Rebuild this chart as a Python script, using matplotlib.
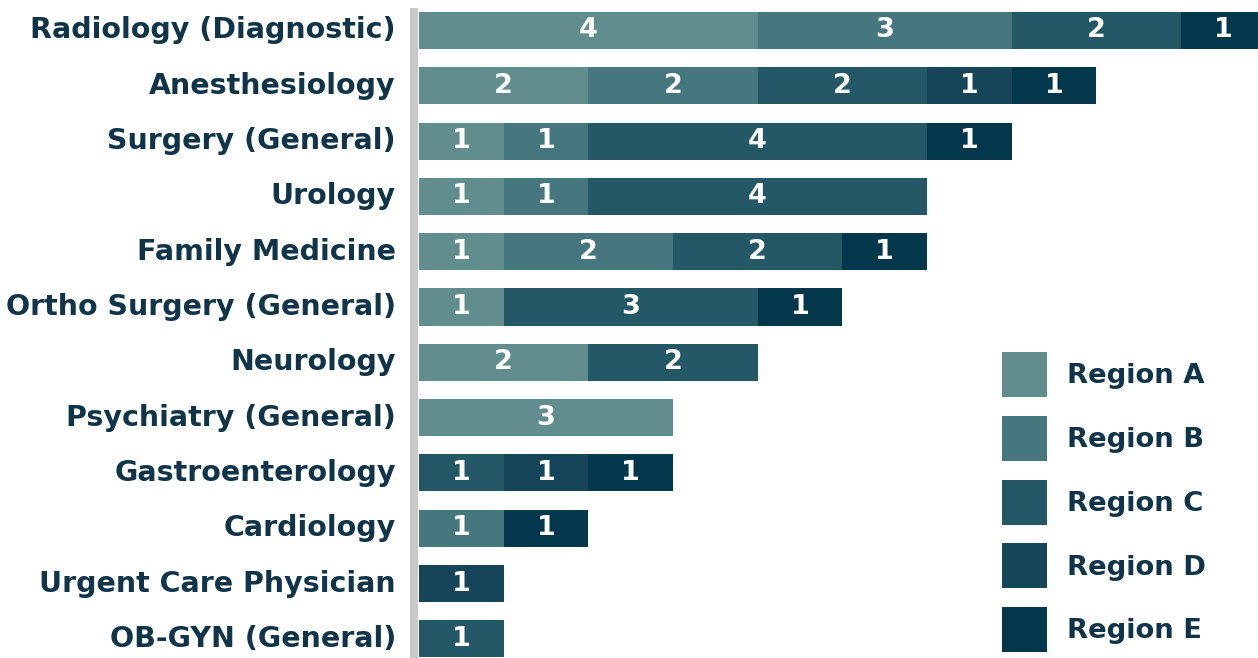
import matplotlib
matplotlib.use("Agg")
import matplotlib.pyplot as plt
import numpy as np

# ---- data ----
specialties = [
    "Radiology (Diagnostic)", "Anesthesiology", "Surgery (General)", "Urology",
    "Family Medicine", "Ortho Surgery (General)", "Neurology",
    "Psychiatry (General)", "Gastroenterology", "Cardiology",
    "Urgent Care Physician", "OB-GYN (General)",
]
regions = ["Region A", "Region B", "Region C", "Region D", "Region E"]

region_a = [4, 2, 1, 1, 1, 1, 2, 3, 0, 0, 0, 0]
region_b = [3, 2, 1, 1, 2, 0, 0, 0, 0, 1, 0, 0]
region_c = [2, 2, 4, 4, 2, 3, 2, 0, 1, 0, 0, 1]
region_d = [0, 1, 0, 0, 0, 0, 0, 0, 1, 0, 1, 0]
region_e = [1, 1, 1, 0, 1, 1, 0, 0, 1, 1, 0, 0]

colors = ["#628d8f", "#47777e", "#245866", "#164559", "#03384c"]
text_color = "#10354a"
font = "DejaVu Sans"

# ---- figure ----
fig = plt.figure(figsize=(12.58, 6.58), dpi=100)
ax = fig.add_axes([419 / 1258, 0, 839 / 1258, 1])

# grey rule on the left (set before the tick labels: set_position resets ticks)
for s in ["top", "right", "bottom"]:
    ax.spines[s].set_visible(False)
ax.spines["left"].set_position(("outward", 3.6))
ax.spines["left"].set_color("#c8c8c8")
ax.spines["left"].set_linewidth(5.8)

y = np.arange(len(specialties))
left = np.zeros(len(specialties))
series = [region_a, region_b, region_c, region_d, region_e]

for vals, col, name in zip(series, colors, regions):
    vals = np.array(vals)
    ax.barh(y, vals, left=left, height=0.67, color=col, label=name)
    for yi, v, l in zip(y, vals, left):
        if v > 0:
            ax.text(l + v / 2, yi, str(v), ha="center", va="center",
                    color="white", fontsize=19.5, fontweight="bold",
                    family=font)
    left = left + vals

ax.set_xlim(0, 9.91)
ax.set_ylim(11.347, -0.5515)
ax.spines["left"].set_bounds(-0.335, 11.347)

ax.set_yticks(y)
ax.set_yticklabels(specialties, fontsize=20.5, fontweight="bold",
                   color=text_color, family=font, va="center")
ax.tick_params(axis="y", length=0, pad=13)
ax.set_xticks([])

leg = ax.legend(loc="upper left", bbox_to_anchor=(0.695, 0.465),
                frameon=False, borderpad=0, borderaxespad=0,
                handlelength=1.64, handleheight=2.15, labelspacing=0.69,
                handletextpad=0.73,
                prop={"family": font, "size": 19.7, "weight": "bold"})
for t in leg.get_texts():
    t.set_color(text_color)

fig.savefig("out.png", dpi=100)
